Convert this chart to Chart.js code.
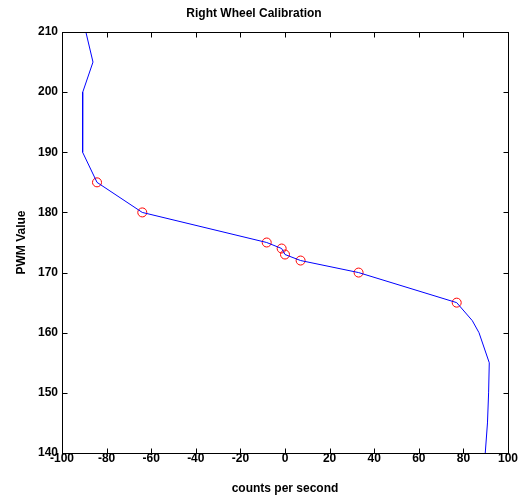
<!DOCTYPE html>
<html>
<head>
<meta charset="utf-8">
<title>Right Wheel Calibration</title>
<script src="https://cdn.jsdelivr.net/npm/chart.js@4/dist/chart.umd.min.js"></script>
<style>
  html, body { margin: 0; padding: 0; background: #fff; }
  canvas { display: block; }
</style>
</head>
<body>
<canvas id="calib" width="520" height="503"></canvas>
<script>
// Fitted calibration curve: PWM value vs. wheel speed (counts per second)
const curvePwm    = [210, 205, 200, 195, 190, 185, 180, 175, 174, 173, 172, 170, 165, 162, 160, 155, 150, 145, 140];
const curveCounts = [-89.3, -86.1, -90.7, -90.6, -90.9, -84.3, -64, -8.2, -1.5, 0, 7, 33, 77, 84, 87, 91.6, 91.3, 90.8, 89.8];

// Measured calibration points
const measuredPwm    = [185, 180, 175, 174, 173, 172, 170, 165];
const measuredCounts = [-84.3, -64, -8.2, -1.5, 0, 7, 33, 77];

// Axis ranges and tick steps
const xRange = [-100, 100];
const yRange = [140, 210];
const xStep = 20;
const yStep = 10;

const toPoints = (xs, ys) => xs.map((x, i) => ({ x: x, y: ys[i] }));

const FONT_FAMILY = "'Liberation Sans', Arial, Helvetica, sans-serif";

// Boxed axes with short inward tick marks on all four sides
const boxAxes = {
  id: 'boxAxes',
  afterDraw(chart) {
    const { ctx, chartArea, scales } = chart;
    const l = Math.round(chartArea.left) + 0.5;
    const r = Math.round(chartArea.right) + 0.5;
    const t = Math.round(chartArea.top) + 0.5;
    const b = Math.round(chartArea.bottom) + 0.5;
    const len = 5;
    ctx.save();
    ctx.strokeStyle = '#000';
    ctx.lineWidth = 1;
    ctx.beginPath();
    scales.x.ticks.forEach(tk => {
      const px = Math.round(scales.x.getPixelForValue(tk.value)) + 0.5;
      ctx.moveTo(px, b); ctx.lineTo(px, b - len);
      ctx.moveTo(px, t); ctx.lineTo(px, t + len);
    });
    scales.y.ticks.forEach(tk => {
      const py = Math.round(scales.y.getPixelForValue(tk.value)) + 0.5;
      ctx.moveTo(l, py); ctx.lineTo(l + len, py);
      ctx.moveTo(r, py); ctx.lineTo(r - len, py);
    });
    ctx.stroke();
    ctx.strokeRect(l, t, r - l, b - t);
    ctx.restore();
  }
};

new Chart(document.getElementById('calib'), {
  type: 'scatter',
  data: {
    datasets: [
      {
        label: 'fit',
        data: toPoints(curveCounts, curvePwm),
        showLine: true,
        borderColor: '#0000ff',
        borderWidth: 1,
        pointRadius: 0,
        tension: 0,
        fill: false
      },
      {
        label: 'measured',
        data: toPoints(measuredCounts, measuredPwm),
        showLine: false,
        pointStyle: 'circle',
        pointRadius: 4.5,
        pointBorderColor: '#ff0000',
        pointBackgroundColor: 'rgba(0,0,0,0)',
        pointBorderWidth: 1
      }
    ]
  },
  options: {
    responsive: false,
    animation: false,
    devicePixelRatio: 1,
    layout: { padding: { left: 0, right: 12, top: 0, bottom: 0 } },
    plugins: {
      legend: { display: false },
      tooltip: { enabled: false },
      title: {
        display: true,
        text: 'Right Wheel Calibration',
        color: '#000',
        font: { family: FONT_FAMILY, size: 12, weight: 'bold' },
        padding: { top: 6.5, bottom: 11.1 }
      }
    },
    scales: {
      x: {
        type: 'linear',
        min: xRange[0],
        max: xRange[1],
        grid: { display: false, drawTicks: false },
        border: { display: false },
        ticks: {
          stepSize: xStep,
          color: '#000',
          padding: -2,
          maxRotation: 0,
          font: { family: FONT_FAMILY, size: 12, weight: 'bold' }
        },
        title: {
          display: true,
          text: 'counts per second',
          color: '#000',
          font: { family: FONT_FAMILY, size: 12, weight: 'bold' },
          padding: { top: 0, bottom: 7 }
        },
        afterFit(scale) { scale.height = 50; }
      },
      y: {
        type: 'linear',
        min: yRange[0],
        max: yRange[1],
        grid: { display: false, drawTicks: false },
        border: { display: false },
        ticks: {
          stepSize: yStep,
          color: '#000',
          padding: 4,
          font: { family: FONT_FAMILY, size: 12, weight: 'bold' }
        },
        title: {
          display: true,
          text: 'PWM Value',
          color: '#000',
          font: { family: FONT_FAMILY, size: 12, weight: 'bold' },
          padding: { top: 14, bottom: 0 }
        },
        afterFit(scale) { scale.width = 62; }
      }
    }
  },
  plugins: [boxAxes]
});
</script>
</body>
</html>
